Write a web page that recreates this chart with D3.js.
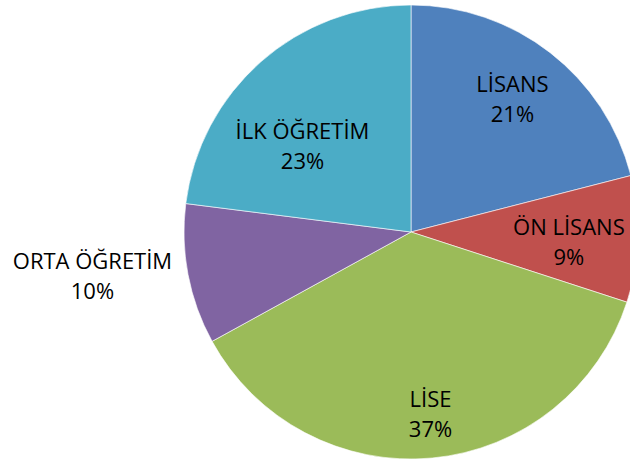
<!DOCTYPE html>
<html>
<head>
<meta charset="utf-8">
<script src="https://cdn.jsdelivr.net/npm/d3@7"></script>
<style>
  html, body { margin: 0; padding: 0; background: #fff; }
  svg { display: block; }
</style>
</head>
<body>
<svg id="chart" width="630" height="466"></svg>
<script>
// ---- data ----
const categories = ["LİSANS", "ÖN LİSANS", "LİSE", "ORTA ÖĞRETİM", "İLK ÖĞRETİM"];
const values = [21, 9, 37, 10, 23];
const percentLabels = ["21%", "9%", "37%", "10%", "23%"];

// ---- styling / layout ----
const colors = ["#4F81BD", "#C0504D", "#9BBB59", "#8064A2", "#4BACC6"];
// label placement: radius factor and angle shift (deg) relative to slice middle
const labelRadius = [0.739, 0.697, 0.802, 1.416, 0.61];
const labelShift = [-0.6, 1.8, -0.75, 3.1, -10.2];

const W = 630, H = 466;
const cx = 411, cy = 232, R = 227;

const svg = d3.select("#chart");
const g = svg.append("g").attr("transform", `translate(${cx},${cy})`);

const pie = d3.pie().sort(null).value(d => d.v).startAngle(0).endAngle(2 * Math.PI);
const data = categories.map((c, i) => ({ c, v: values[i], p: percentLabels[i], i }));
const arcs = pie(data);
const arc = d3.arc().innerRadius(0).outerRadius(R);

g.selectAll("path.slice")
  .data(arcs)
  .enter().append("path")
  .attr("class", "slice")
  .attr("d", arc)
  .attr("fill", d => colors[d.data.i])
  .attr("stroke", "#ffffff")
  .attr("stroke-width", 1)
  .attr("stroke-opacity", 0.6);

const labels = g.selectAll("text.lbl")
  .data(arcs)
  .enter().append("text")
  .attr("class", "lbl")
  .attr("font-family", "'Open Sans', sans-serif")
  .attr("font-size", 22)
  .attr("fill", "#000")
  .attr("text-anchor", "middle")
  .attr("transform", d => {
    const i = d.data.i;
    const mid = (d.startAngle + d.endAngle) / 2 + labelShift[i] * Math.PI / 180;
    const r = labelRadius[i] * R;
    return `translate(${r * Math.sin(mid)},${-r * Math.cos(mid)})`;
  });

labels.append("tspan").attr("x", 0).attr("y", -6.5).text(d => d.data.c);
labels.append("tspan").attr("x", 0).attr("y", 23.5).text(d => d.data.p);
</script>
</body>
</html>
